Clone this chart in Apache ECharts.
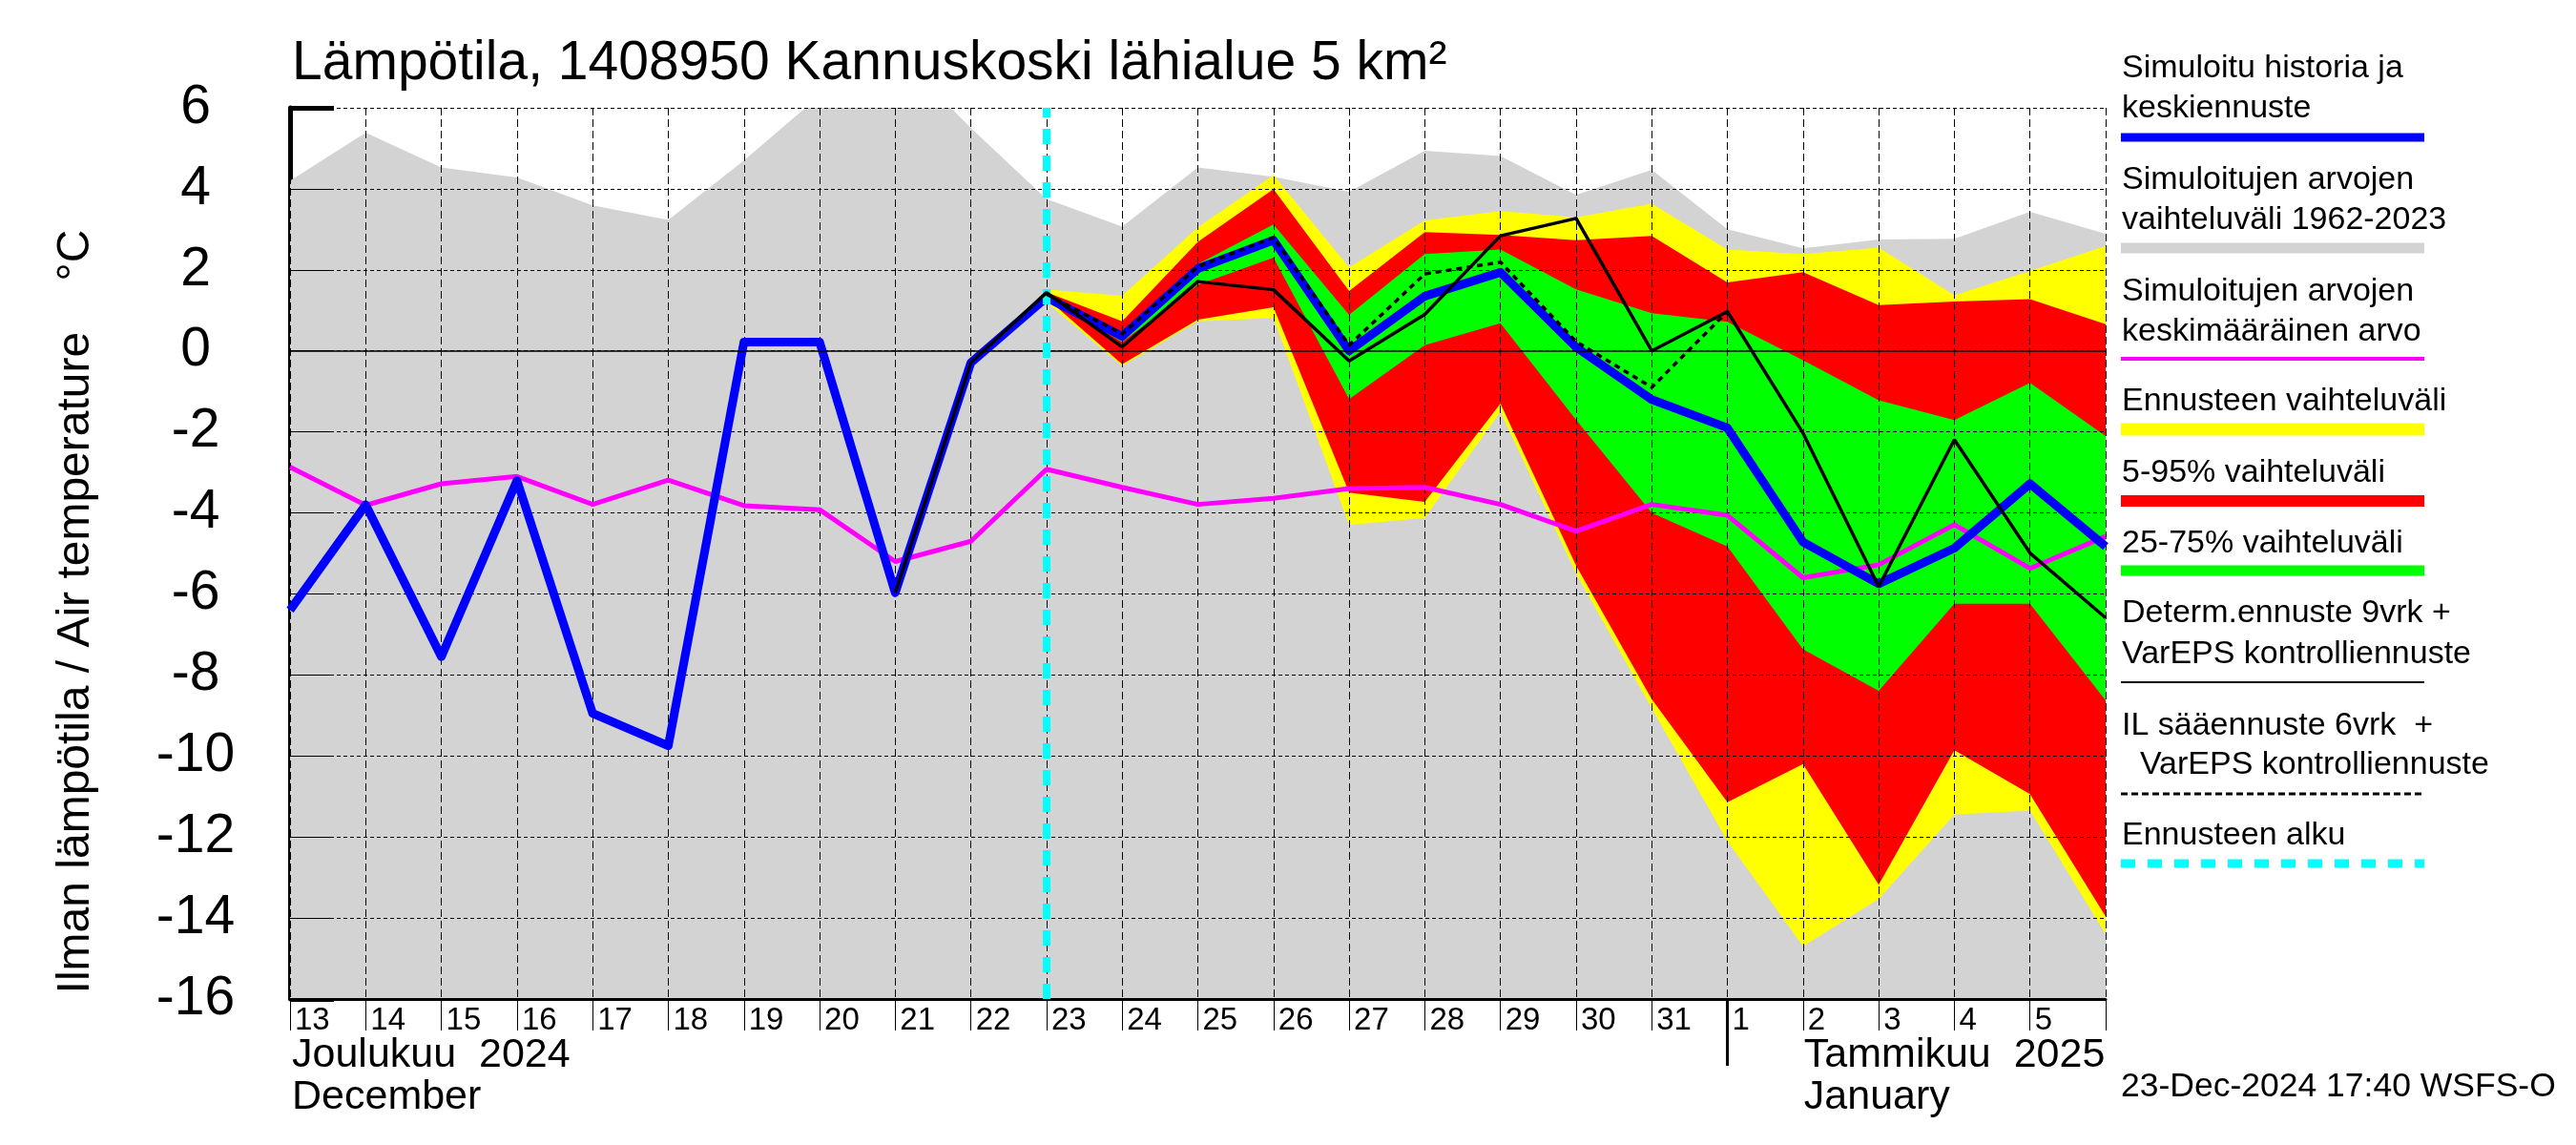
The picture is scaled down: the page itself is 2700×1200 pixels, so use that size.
<!DOCTYPE html>
<html><head><meta charset="utf-8">
<script src="https://cdn.jsdelivr.net/npm/echarts@6/dist/echarts.min.js"></script>
<style>html,body{margin:0;padding:0;background:#fff}#c{width:2700px;height:1200px}</style>
</head><body><div id="c"></div>
<script>
// ---- data ----
const dates = ['2024-12-13','2024-12-14','2024-12-15','2024-12-16','2024-12-17','2024-12-18','2024-12-19','2024-12-20','2024-12-21','2024-12-22','2024-12-23','2024-12-24','2024-12-25','2024-12-26','2024-12-27','2024-12-28','2024-12-29','2024-12-30','2024-12-31','2025-01-01','2025-01-02','2025-01-03','2025-01-04','2025-01-05','2025-01-06'];
const yTicks = [-16,-14,-12,-10,-8,-6,-4,-2,0,2,4,6];
const climMax   = [4.2,5.39,4.53,4.28,3.59,3.23,4.7,6.3,7.4,5.5,3.75,3.07,4.53,4.3,3.93,4.94,4.81,3.85,4.47,3.0,2.53,2.75,2.77,3.43,2.89];
const climMean  = [-2.87,-3.81,-3.28,-3.1,-3.79,-3.19,-3.82,-3.92,-5.2,-4.7,-2.92,-3.37,-3.79,-3.64,-3.4,-3.37,-3.79,-4.45,-3.79,-4.06,-5.6,-5.28,-4.29,-5.37,-4.58];
const simMean   = [-6.4,-3.8,-7.55,-3.2,-8.95,-9.75,0.22,0.22,-5.97,-0.29,1.32,0.36,2.03,2.73,0.0,1.35,1.94,0.09,-1.2,-1.9,-4.72,-5.75,-4.87,-3.28,-4.83];
const fcMin     = [null,null,null,null,null,null,null,null,null,null,1.2,-0.37,0.73,0.81,-4.3,-4.12,-1.5,-5.5,-8.82,-12.1,-14.7,-13.53,-11.45,-11.35,-14.4];
const fcMax     = [null,null,null,null,null,null,null,null,null,null,1.51,1.36,3.05,4.34,2.06,3.22,3.45,3.3,3.63,2.5,2.39,2.55,1.37,1.97,2.59];
const p05       = [null,null,null,null,null,null,null,null,null,null,1.3,-0.33,0.77,1.08,-3.5,-3.73,-1.3,-5.3,-8.6,-11.14,-10.2,-13.18,-9.86,-10.94,-13.96];
const p95       = [null,null,null,null,null,null,null,null,null,null,1.45,0.73,2.69,3.99,1.48,2.93,2.86,2.73,2.84,1.69,1.94,1.13,1.22,1.28,0.66];
const p25       = [null,null,null,null,null,null,null,null,null,null,1.33,0.22,1.63,2.3,-1.19,0.14,0.68,-1.7,-4.0,-4.83,-7.37,-8.39,-6.24,-6.24,-8.63];
const p75       = [null,null,null,null,null,null,null,null,null,null,1.4,0.46,2.14,3.12,0.89,2.39,2.5,1.52,0.93,0.72,-0.23,-1.22,-1.71,-0.79,-2.1];
const determ    = [null,null,null,null,null,null,null,null,-5.97,-0.29,1.44,0.1,1.71,1.51,-0.25,0.9,2.84,3.27,0.0,0.97,-2.03,-5.82,-2.19,-4.99,-6.59];
const ilFc      = [null,null,null,null,null,null,null,null,null,null,1.4,0.42,2.08,2.8,0.14,1.9,2.19,0.23,-0.9,0.97,null,null,null,null,null];
const forecastStart = '2024-12-23';
const titleText = 'Lämpötila, 1408950 Kannuskoski lähialue 5 km²';
const yTitle = 'Ilman lämpötila / Air temperature    °C';
const monthLabels = [['Joulukuu  2024','December'],['Tammikuu  2025','January']];
const footer = '23-Dec-2024 17:40 WSFS-O';
const legendTexts = [
  ['Simuloitu historia ja','keskiennuste'],
  ['Simuloitujen arvojen','vaihteluväli 1962-2023'],
  ['Simuloitujen arvojen','keskimääräinen arvo'],
  ['Ennusteen vaihteluväli'],
  ['5-95% vaihteluväli'],
  ['25-75% vaihteluväli'],
  ['Determ.ennuste 9vrk +','VarEPS kontrolliennuste'],
  ['IL sääennuste 6vrk  +','  VarEPS kontrolliennuste'],
  ['Ennusteen alku']
];

// ---- chart ----
const FONT = '"Liberation Sans", Arial, Helvetica, sans-serif';
const chart = echarts.init(document.getElementById('c'), null, {renderer:'canvas'});
const diff = (lo, hi) => lo.map((v, i) => (v == null || hi[i] == null) ? null : +(hi[i] - v).toFixed(3));
const yMin = yTicks[0], yMax = yTicks[yTicks.length - 1];

function band(id, lo, hi, color) {
  return [
    {type:'line', name:id+'_lo', stack:id, stackStrategy:'all', data:lo, showSymbol:false, symbol:'none',
     lineStyle:{width:0, opacity:0}, z:1, silent:true},
    {type:'line', name:id+'_hi', stack:id, stackStrategy:'all', data:diff(lo, hi), showSymbol:false, symbol:'none',
     lineStyle:{width:0, opacity:0}, areaStyle:{color:color, opacity:1}, z:1, silent:true}
  ];
}

const series = [
  {type:'line', name:'clim', data:climMax, showSymbol:false, symbol:'none', lineStyle:{width:0, opacity:0},
   areaStyle:{color:'#d3d3d3', opacity:1, origin:'start'}, z:1, silent:true},
  ...band('yel', fcMin, fcMax, '#ffff00'),
  ...band('red', p05, p95, '#ff0000'),
  ...band('grn', p25, p75, '#00ff00'),
  {type:'line', name:'mean', data:climMean, showSymbol:false, symbol:'none', lineStyle:{color:'#ff00ff', width:5}, z:3, silent:true,
   markLine:{silent:true, symbol:'none', label:{show:false}, lineStyle:{color:'#000', width:1.5, type:'solid'}, data:[{yAxis:0}]}},
  {type:'line', name:'sim', data:simMean, showSymbol:false, symbol:'none', lineStyle:{color:'#0000ff', width:9, join:'round'}, z:4, silent:true},
  {type:'line', name:'il', data:ilFc, showSymbol:false, symbol:'none', lineStyle:{color:'#000', width:3.5, type:[6,5]}, z:5, silent:true},
  {type:'line', name:'det', data:determ, showSymbol:false, symbol:'none', lineStyle:{color:'#000', width:3.5}, z:5, silent:true,
   markLine:{silent:true, symbol:'none', label:{show:false}, lineStyle:{color:'#00ffff', width:8, type:[16,12]}, data:[{xAxis:forecastStart}]}}
];

const option = {
  animation:false,
  backgroundColor:'#fff',
  grid:{left:304, top:113, width:1903, height:934, containLabel:false, outerBoundsMode:'none'},
  xAxis:{type:'category', data:dates, boundaryGap:false, z:2,
    axisLine:{show:true, onZero:false, lineStyle:{color:'#000', width:3}},
    axisTick:{show:true, interval:0, length:33, lineStyle:{color:'#000', width:1}},
    axisLabel:{interval:0, align:'left', padding:[0,0,0,5], margin:6, fontSize:33, color:'#000', fontFamily:FONT,
      formatter:(v, i) => i === dates.length - 1 ? '' : String(+v.slice(8))},
    splitLine:{show:true, interval:0, lineStyle:{color:'#000', width:1, type:[8,4]}}
  },
  yAxis:[
    {type:'value', min:yMin, max:yMax, interval:2, z:0, position:'left',
      axisLine:{show:true, onZero:false, lineStyle:{color:'#000', width:5}},
      axisTick:{show:true, inside:true, length:46, lineStyle:{color:'#000', width:5}},
      axisLabel:{show:true, align:'center', margin:99, fontSize:57, color:'#000', fontFamily:FONT, padding:[0,0,16,0]},
      splitLine:{show:false}},
    {type:'value', min:yMin, max:yMax, interval:2, z:2, position:'left', offset:0,
      axisLine:{show:false},
      axisTick:{show:true, inside:true, length:46, lineStyle:{color:'#000', width:1}},
      axisLabel:{show:false},
      splitLine:{show:true, lineStyle:{color:'#000', width:1, type:[4,3]}}}
  ],
  series: series
};
chart.setOption(option);

// ---- texts, legend & month separators ----
const g = [];
const txt = (x, y, text, size, extra) => Object.assign({type:'text', x:x, y:y, silent:true,
  style:Object.assign({text:text, fontSize:size, fontFamily:FONT, fill:'#000', align:'left', verticalAlign:'middle'}, extra || {})});
g.push(txt(306, 67, titleText, 57));
g.push(Object.assign(txt(80, 641, yTitle, 48, {align:'center'}), {rotation:Math.PI/2}));

const xDec = chart.convertToPixel({xAxisIndex:0}, dates[0]);
const iJan1 = dates.indexOf('2025-01-01');
const xJan1 = chart.convertToPixel({xAxisIndex:0}, dates[iJan1]);
const xJan2 = chart.convertToPixel({xAxisIndex:0}, dates[iJan1 + 1]);
const yAxisPx = chart.convertToPixel({yAxisIndex:0}, yMin);
g.push({type:'line', silent:true, shape:{x1:xJan1, y1:yAxisPx, x2:xJan1, y2:yAxisPx + 70}, style:{stroke:'#000', lineWidth:3}});
g.push(txt(xDec + 2, 1106, monthLabels[0][0], 43));
g.push(txt(xDec + 2, 1150, monthLabels[0][1], 43));
g.push(txt(xJan2 + 1, 1106, monthLabels[1][0], 43));
g.push(txt(xJan2 + 1, 1150, monthLabels[1][1], 43));
g.push(txt(2223, 1139, footer, 35.5));

const legTextY = [[72,114],[189,231],[306,348],[421],[496],[570],[643,686],[761,802],[876]];
const legLine = [
  {y:144, color:'#0000ff', w:9, dash:null},
  {y:260, color:'#d3d3d3', w:11, dash:null},
  {y:376, color:'#ff00ff', w:4, dash:null},
  {y:450, color:'#ffff00', w:13, dash:null},
  {y:525, color:'#ff0000', w:12, dash:null},
  {y:598, color:'#00ff00', w:11, dash:null},
  {y:715, color:'#000000', w:2, dash:null},
  {y:832, color:'#000000', w:3, dash:[7,4]},
  {y:905, color:'#00ffff', w:9, dash:[15,13]}
];
legendTexts.forEach((lines, k) => {
  lines.forEach((t, j) => g.push(txt(2224, legTextY[k][j], t, 34)));
  const L = legLine[k];
  g.push({type:'line', silent:true, shape:{x1:2223, y1:L.y, x2:2541, y2:L.y},
    style:{stroke:L.color, lineWidth:L.w, lineDash:L.dash || null}});
});
chart.setOption({graphic:g});
</script>
</body></html>
